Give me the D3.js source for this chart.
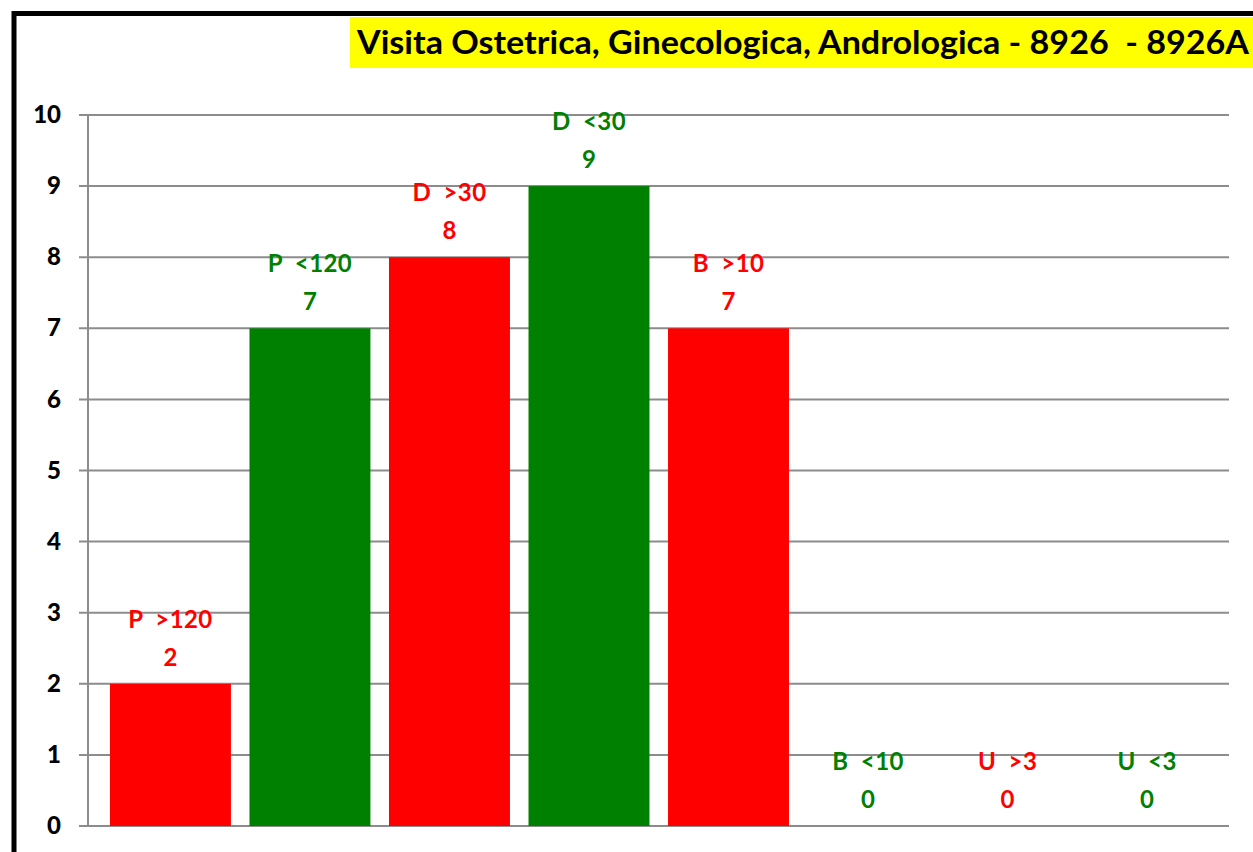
<!DOCTYPE html>
<html><head><meta charset="utf-8">
<script src="https://cdn.jsdelivr.net/npm/d3@7"></script>
<style>
html,body{margin:0;padding:0;background:#fff;}
svg{display:block;font-family:Lato,"Open Sans",sans-serif;font-weight:bold;}
text{white-space:pre;}
</style></head>
<body>
<svg id="chart" width="1253" height="852"></svg>
<script>
const title = "Visita Ostetrica, Ginecologica, Andrologica - 8926  - 8926A";
const categories = ["P  >120","P  <120","D  >30","D  <30","B  >10","B  <10","U  >3","U  <3"];
const values = [2,7,8,9,7,0,0,0];
const barColors = ["#FF0000","#008000","#FF0000","#008000","#FF0000","#008000","#FF0000","#008000"];
const yTicks = [0,1,2,3,4,5,6,7,8,9,10];

const svg = d3.select("#chart");

// outer frame
svg.append("rect").attr("x",14).attr("y",13.5).attr("width",1300).attr("height",900)
  .attr("fill","none").attr("stroke","#000").attr("stroke-width",5);

// title
svg.append("rect").attr("x",350).attr("y",17).attr("width",903).attr("height",51).attr("fill","#FFFF00");
svg.append("text").attr("x",357).attr("y",54).attr("font-size",33)
  .attr("textLength",892).attr("lengthAdjust","spacingAndGlyphs")
  .attr("fill","#000").text(title);

const x = d3.scaleBand().domain(categories).range([100.75,1216.75]).paddingInner(0.133).paddingOuter(0.066);
const y = d3.scaleLinear().domain([0,10]).range([826,115]);

// gridlines
const g = svg.append("g");
g.selectAll("line.grid").data(yTicks).join("line")
  .attr("x1",79).attr("x2",1229)
  .attr("y1",d=>y(d)).attr("y2",d=>y(d))
  .attr("stroke","#8c8c8c").attr("stroke-width",2);
// y axis line
g.append("line").attr("x1",88).attr("x2",88).attr("y1",y(10)).attr("y2",y(0))
  .attr("stroke","#8c8c8c").attr("stroke-width",2);

// y axis labels
const yAxis = d3.axisLeft(y).tickValues(yTicks).tickSize(0).tickPadding(0).tickFormat(d3.format("d"));
const ya = svg.append("g").attr("transform","translate(61,0)").call(yAxis);
ya.select(".domain").remove();
ya.selectAll("text").attr("font-size",24).attr("font-family","Lato,sans-serif").attr("font-weight",900).attr("fill","#000");

// bars
svg.selectAll("rect.bar").data(values).join("rect").attr("class","bar")
  .attr("x",(d,i)=>x(categories[i]))
  .attr("width",x.bandwidth())
  .attr("y",d=>y(d))
  .attr("height",d=>y(0)-y(d))
  .attr("fill",(d,i)=>barColors[i]);

// labels
const lab = svg.selectAll("g.lab").data(values).join("g").attr("class","lab");
lab.append("text")
  .attr("x",(d,i)=>x(categories[i])+x.bandwidth()/2)
  .attr("y",d=>y(d)-56)
  .attr("text-anchor","middle").attr("font-size",24).attr("letter-spacing",0.4)
  .attr("fill",(d,i)=>barColors[i])
  .text((d,i)=>categories[i]);
lab.append("text")
  .attr("x",(d,i)=>x(categories[i])+x.bandwidth()/2)
  .attr("y",d=>y(d)-18)
  .attr("text-anchor","middle").attr("font-size",24)
  .attr("fill",(d,i)=>barColors[i])
  .text(d=>d);
</script>
</body></html>
